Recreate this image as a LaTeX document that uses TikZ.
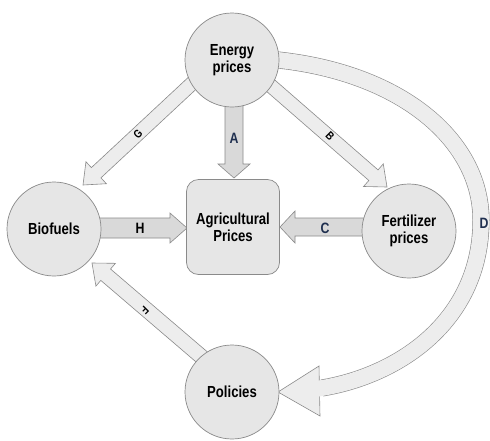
\documentclass[tikz,border=0pt]{standalone}
\usepackage{fontspec}
\setmainfont{Liberation Sans}[FakeStretch=0.82]
\usetikzlibrary{calc}
\definecolor{navy}{HTML}{1F2F4F}
\definecolor{nodefill}{HTML}{E6E6E6}
\definecolor{edgegray}{HTML}{8A8A8A}
\definecolor{arrfill}{HTML}{D9D9D9}
\definecolor{arrlight}{HTML}{EDEDED}
% #1 style, #2 start, #3 tip, #4 half shaft, #5 half head, #6 head length (all in pt)
\newcommand\blockarr[6]{%
  \coordinate (ba@b) at ($(#3)!#6pt!(#2)$);
  \draw[#1] ($(#2)!#4pt!90:(#3)$) -- ($(ba@b)!#4pt!-90:(#2)$) -- ($(ba@b)!#5pt!-90:(#2)$)
    -- (#3) -- ($(ba@b)!#5pt!90:(#2)$) -- ($(ba@b)!#4pt!90:(#2)$) -- ($(#2)!#4pt!-90:(#3)$) -- cycle;}
\begin{document}
\begin{tikzpicture}[x=1pt,y=-1pt,
  circ/.style={circle, draw=edgegray, line width=0.7pt, fill=nodefill, minimum size=94pt, inner sep=0pt,
    align=center, font=\fontsize{16}{16.5}\selectfont\bfseries},
  boxnode/.style={rectangle, rounded corners=12pt, draw=edgegray, line width=0.7pt, fill=nodefill,
    minimum width=93pt, minimum height=95pt, inner sep=0pt, align=center,
    font=\fontsize{16}{17}\selectfont\bfseries},
  darr/.style={draw=edgegray, line width=0.6pt, fill=arrfill, line join=miter},
  larr/.style={draw=edgegray, line width=0.6pt, fill=arrlight, line join=miter},
  lab/.style={font=\fontsize{15}{15}\selectfont\bfseries, inner sep=0pt},
  slab/.style={font=\fontsize{11.5}{11.5}\selectfont\bfseries, inner sep=0pt}]
\useasboundingbox (0,0) rectangle (490,440);
\fill[white] (0,0) rectangle (490,440);

% arrow end points
\coordinate (aS) at (234,100);  \coordinate (aT) at (234,178);
\coordinate (hS) at (95,228);   \coordinate (hT) at (187,228);
\coordinate (cS) at (368,227);  \coordinate (cT) at (280,227);
\coordinate (gS) at (200,76);   \coordinate (gT) at (83,185);
\coordinate (bS) at (263,79);   \coordinate (bT) at (387,187);
\coordinate (fS) at (210,364);  \coordinate (fT) at (92,263);
\coordinate (dS) at (268,59);   \coordinate (dM) at (481,220);
\coordinate (dE) at (322,388);  \coordinate (dX) at (314,389.3);
\coordinate (dT) at (278,392);
\coordinate (dH1) at (319,366); \coordinate (dH2) at (320,416);

% straight block arrows
\blockarr{darr}{aS}{aT}{9}{16}{14}
\blockarr{darr}{hS}{hT}{10}{15}{17}
\blockarr{darr}{cS}{cT}{9}{16}{15}
\blockarr{larr}{gS}{gT}{7}{15}{18}
\blockarr{larr}{bS}{bT}{7}{15}{18}
\blockarr{larr}{fS}{fT}{7.5}{15}{18}

% curved arrow D
\draw[larr] (dT) -- (dH1) -- (dH2) -- cycle;
\draw[edgegray, line width=17pt] (dS) .. controls (400,70) and (481,140) .. (dM)
   .. controls (481,320) and (400,375) .. (dE);
\draw[arrlight, line width=15.8pt] (dS) .. controls (400,70) and (481,140) .. (dM)
   .. controls (481,320) and (400,375) .. (dE) -- (dX);

% nodes
\node[circ] (E) at (232,60) {Energy\\prices};
\node[circ] (Bi) at (54,229) {Biofuels};
\node[circ] (Fe) at (409,231) {Fertilizer\\prices};
\node[circ] (P) at (232,392) {Policies};
\node[boxnode] (Ag) at (233,227) {Agricultural\\Prices};

% labels
\node[lab, navy] (lA) at (234,138) {A};
\node[lab] (lH) at (140,228) {H};
\node[lab, navy] (lC) at (325,228) {C};
\node[lab, navy] (lD) at (484,223) {D};
\node[slab, rotate=45] (lG) at (138,134) {G};
\node[slab, rotate=-45] (lB) at (330,136) {B};
\node[slab, rotate=-135] (lF) at (145,310) {F};
\end{tikzpicture}
\end{document}
